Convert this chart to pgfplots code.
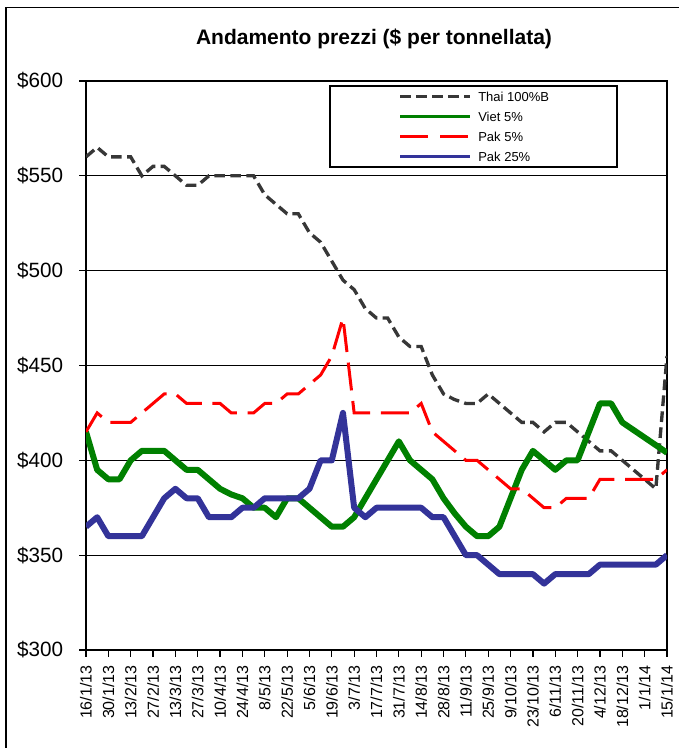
\documentclass[border=0pt]{standalone}
\usepackage{fontspec}
\setmainfont{Liberation Sans}
\usepackage{pgfplots}
\pgfplotsset{compat=1.18}
\usepackage{pgfplotstable}

\definecolor{thaic}{RGB}{55,55,55}
\definecolor{vietc}{RGB}{0,128,0}
\definecolor{pakfc}{RGB}{255,0,0}
\definecolor{paktc}{RGB}{51,51,153}

\pgfplotstableread{
w thai viet pak5 pak25
0 560 415 415 365
1 565 395 425 370
2 560 390 420 360
3 560 390 420 360
4 560 400 420 360
5 550 405 425 360
6 555 405 430 370
7 555 405 435 380
8 550 400 435 385
9 545 395 430 380
10 545 395 430 380
11 550 390 430 370
12 550 385 430 370
13 550 382 425 370
14 550 380 425 375
15 550 375 425 375
16 540 375 430 380
17 535 370 430 380
18 530 380 435 380
19 530 380 435 380
20 520 375 440 385
21 515 370 445 400
22 505 365 455 400
23 495 365 475 425
24 490 370 425 375
25 480 380 425 370
26 475 390 425 375
27 475 400 425 375
28 465 410 425 375
29 460 400 425 375
30 460 395 430 375
31 445 390 415 370
32 435 380 410 370
33 432 372 405 360
34 430 365 400 350
35 430 360 400 350
36 435 360 395 345
37 430 365 390 340
38 425 380 385 340
39 420 395 385 340
40 420 405 380 340
41 415 400 375 335
42 420 395 375 340
43 420 400 380 340
44 415 400 380 340
45 410 415 380 340
46 405 430 390 345
47 405 430 390 345
48 400 420 390 345
49 395 416 390 345
50 390 412 390 345
51 385 408 390 345
52 455 404 395 350
}\prices

\begin{document}
\begin{tikzpicture}
\useasboundingbox (0,0) rectangle (508.5pt,561pt);
\draw[line width=1.1pt] (4.5pt,-2pt) -- (4.5pt,555.4pt) -- (512pt,555.4pt);
\node[font=\bfseries\fontsize{15.75}{18}\selectfont, anchor=base, inner sep=0pt] at (280.5pt,527.25pt) {Andamento prezzi (\$ per tonnellata)};
\begin{axis}[
  at={(64.5pt,73.5pt)}, anchor=south west,
  scale only axis, width=435.75pt, height=426.75pt,
  xmin=0, xmax=52, ymin=300, ymax=600,
  xtick={0,2,...,52},
  xticklabels={16/1/13,30/1/13,13/2/13,27/2/13,13/3/13,27/3/13,10/4/13,24/4/13,8/5/13,22/5/13,5/6/13,19/6/13,3/7/13,17/7/13,31/7/13,14/8/13,28/8/13,11/9/13,25/9/13,9/10/13,23/10/13,6/11/13,20/11/13,4/12/13,18/12/13,1/1/14,15/1/14},
  ytick={300,350,...,600},
  yticklabels={\$300,\$350,\$400,\$450,\$500,\$550,\$600},
  /pgf/number format/assume math mode=true,
  axis line style={black, line width=1pt},
  ymajorgrids, grid style={black, line width=0.8pt},
  tick style={black, line width=0.9pt},
  major tick length=5pt,
  tick align=outside,
  xtick pos=bottom, ytick pos=left,
  yticklabel style={font=\fontsize{15.5}{18}\selectfont, anchor=east, inner sep=0pt, xshift=-12pt},
  xticklabel style={font=\fontsize{12}{14}\selectfont, rotate=90, anchor=east, inner sep=0pt, xshift=-6.5pt},
]
\addplot[thaic, line width=2.5pt, dash pattern=on 8pt off 4pt, mark=none] table[x=w,y=thai]{\prices};
\addplot[vietc, line width=4.5pt, line join=round, mark=none] table[x=w,y=viet]{\prices};
\addplot[pakfc, line width=2.25pt, dash pattern=on 21pt off 8pt, mark=none] table[x=w,y=pak5]{\prices};
\addplot[paktc, line width=4.5pt, line join=round, mark=none] table[x=w,y=pak25]{\prices};
\end{axis}
% legend
\draw[line width=1.1pt, fill=white] (247.5pt,435.75pt) rectangle (462.75pt,496.5pt);
\draw[thaic, line width=2pt, dash pattern=on 8pt off 4pt] (300pt,488.5pt) -- (352.5pt,488.5pt);
\draw[vietc, line width=2pt] (300pt,473.5pt) -- (352.5pt,473.5pt);
\draw[pakfc, line width=2pt, dash pattern=on 21pt off 9pt] (300pt,458.5pt) -- (352.5pt,458.5pt);
\draw[paktc, line width=2pt] (300pt,443.5pt) -- (352.5pt,443.5pt);
\begin{scope}[every node/.style={anchor=base west, inner sep=0pt, font=\fontsize{9.75}{11}\selectfont}]
\node at (358.5pt,485pt) {Thai 100\%B};
\node at (358.5pt,470pt) {Viet 5\%};
\node at (358.5pt,455pt) {Pak 5\%};
\node at (358.5pt,440pt) {Pak 25\%};
\end{scope}
\end{tikzpicture}
\end{document}
